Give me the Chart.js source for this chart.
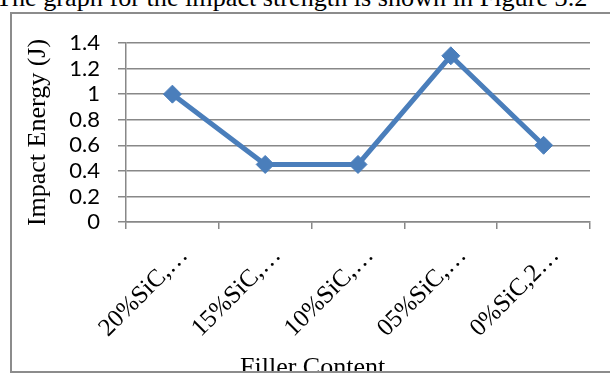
<!DOCTYPE html>
<html>
<head>
<meta charset="utf-8">
<script src="https://cdn.jsdelivr.net/npm/chart.js@4"></script>
<style>
  html, body { margin: 0; padding: 0; background: #fff; }
  body { width: 610px; height: 374px; position: relative; overflow: hidden; }
  #caption {
    position: absolute; left: -4px; top: -15px;
    font: 26.2px/26px "Liberation Serif", "Times New Roman", serif;
    white-space: nowrap; color: #000;
  }
  #frame {
    position: absolute; left: 10px; top: 12px;
    width: 700px; height: 357px;
    border: 2px solid #8c8c8c;
  }
  #plotWrap {
    position: absolute; left: 0; top: 0;
    width: 610px; height: 371px; overflow: hidden;
  }
  #xTitle {
    position: absolute; left: 240px; top: 354px;
    font: 26px/26px "Liberation Serif", "Times New Roman", serif;
    white-space: nowrap; color: #000;
  }
</style>
</head>
<body>
<div id="caption">The graph for the impact strength is shown in Figure 3.2</div>
<div id="frame"></div>
<div id="plotWrap">
  <canvas id="impactChart" width="610" height="371"></canvas>
  <div id="xTitle">Filler Content</div>
</div>
<script>
const categories = ['20%SiC,…', '15%SiC,…', '10%SiC,…', '05%SiC,…', '0%SiC,2…'];
const impactEnergy = [1.0, 0.45, 0.45, 1.3, 0.6];
const yTickValues = [0, 0.2, 0.4, 0.6, 0.8, 1, 1.2, 1.4];

const axisGray = '#888888';
const seriesBlue = '#4a7ebb';

const ctx = document.getElementById('impactChart').getContext('2d');
new Chart(ctx, {
  type: 'line',
  data: {
    labels: categories,
    datasets: [{
      data: impactEnergy,
      borderColor: seriesBlue,
      borderWidth: 5,
      tension: 0,
      pointStyle: 'rectRot',
      pointRadius: 9,
      pointBackgroundColor: seriesBlue,
      pointBorderColor: seriesBlue,
      pointBorderWidth: 1
    }]
  },
  options: {
    responsive: false, animation: false, devicePixelRatio: 1,
    layout: { padding: { left: 12, top: 43, right: 20, bottom: 0 } },
    plugins: { legend: { display: false }, tooltip: { enabled: false } },
    scales: {
      x: {
        type: 'category',
        offset: true,
        grid: { offset: true, drawOnChartArea: false, drawTicks: true, tickLength: 7, color: axisGray, lineWidth: 1.5 },
        border: { color: axisGray, width: 1.5 },
        ticks: {
          minRotation: 45, maxRotation: 45, autoSkip: false,
          padding: 12, labelOffset: 12, color: '#000',
          font: { family: '"Liberation Serif", "Times New Roman", serif', size: 25 }
        },
        afterFit: (scale) => { scale.height = 149; }
      },
      y: {
        min: 0, max: 1.4,
        afterBuildTicks: (scale) => { scale.ticks = yTickValues.map(v => ({ value: v })); },
        grid: { drawTicks: true, tickLength: 8, color: axisGray, lineWidth: 1.5 },
        border: { color: axisGray, width: 1.5 },
        ticks: {
          autoSkip: false, padding: 18, color: '#000',
          font: { family: 'Lato, Calibri, sans-serif', size: 22 },
          callback: (v) => String(v)
        },
        title: {
          display: true, text: 'Impact Energy (J)', color: '#000',
          font: { family: '"Liberation Serif", "Times New Roman", serif', size: 26 },
          padding: { top: 11, bottom: 0 }
        },
        afterFit: (scale) => { scale.width = 114; }
      }
    }
  }
});
</script>
</body>
</html>
